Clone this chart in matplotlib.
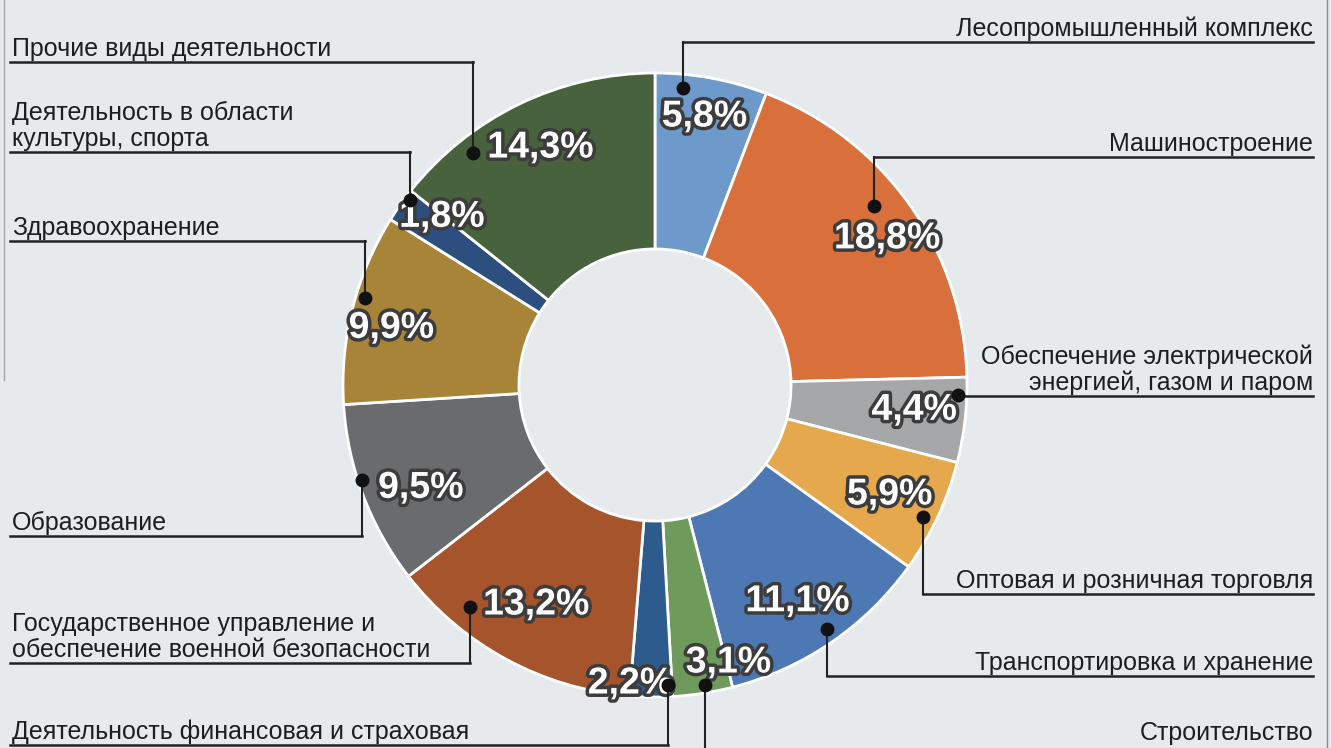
import matplotlib
matplotlib.use('Agg')
import matplotlib.pyplot as plt
import matplotlib.patheffects as pe
import numpy as np

plt.rcParams['font.family'] = ['Liberation Sans', 'DejaVu Sans']

# data, clockwise from 12 o'clock
categories = [
    'Лесопромышленный комплекс',
    'Машиностроение',
    'Обеспечение электрической\nэнергией, газом и паром',
    'Оптовая и розничная торговля',
    'Транспортировка и хранение',
    'Строительство',
    'Деятельность финансовая и страховая',
    'Государственное управление и\nобеспечение военной безопасности',
    'Образование',
    'Здравоохранение',
    'Деятельность в области\nкультуры, спорта',
    'Прочие виды деятельности',
]
shares = [5.8, 18.8, 4.4, 5.9, 11.1, 3.1, 2.2, 13.2, 9.5, 9.9, 1.8, 14.3]
colors = ['#6e9acb', '#d9703c', '#a6a7a9', '#e6a84c', '#4e78b4', '#6e9b5c',
          '#2e5b8e', '#a5542b', '#6a6b6d', '#a88438', '#2d4f7f', '#47623c']

# layout (pixels, y measured from top)
W, H = 1331, 748
CX, CY = 655, 385
R = 312
side = ['r', 'r', 'r', 'r', 'r', 'r', 'l', 'l', 'l', 'l', 'l', 'l']
line_y = [42, 157, 396, 594, 676, 752, 745, 663, 536, 241, 152, 62]
text_gap = [6, 6, 6, 6, 6, 12, 6, 6, 6, 6, 6, 6]
dot_frac = [0.26, 0.44, 0.21, 0.56, 0.48, 0.44, 0.09, 0.74, 0.58, 0.57, 0.77, 0.26]
dot_r = [0.955, 0.907, 0.971, 0.958, 0.955, 0.974, 0.962, 0.926, 0.987, 0.971, 0.985, 0.946]
pct_r = [0.875, 0.88, 0.835, 0.83, 0.83, 0.92, 0.96, 0.80, 0.82, 0.865, 0.87, 0.845]
pct_shift = [0, 3, -1, 0, 1, -6, 4, 0, -3, -2, 3, 0]


def polar(clock_deg, r):
    t = np.deg2rad(90 - clock_deg)
    return CX + r * R * np.cos(t), (H - CY) + r * R * np.sin(t)


fig = plt.figure(figsize=(W / 100, H / 100), dpi=100)
fig.patch.set_facecolor('#e6eaed')
ax = fig.add_axes([0, 0, 1, 1])
ax.set_facecolor('#e6eaed')

ax.pie(shares, colors=colors, startangle=90, counterclock=False,
       radius=R, center=(CX, H - CY),
       wedgeprops=dict(width=R * 0.564, edgecolor='white', linewidth=2))
ax.set_xlim(0, W)
ax.set_ylim(0, H)
ax.set_aspect('equal')
ax.axis('off')

total = sum(shares)
bounds = np.concatenate([[0], np.cumsum(shares)]) / total * 360

outline = [pe.withStroke(linewidth=5, foreground='#3c3c3c')]
for i, v in enumerate(shares):
    a0, a1 = bounds[i], bounds[i + 1]
    mid = (a0 + a1) / 2 + pct_shift[i]
    tx, ty = polar(mid, pct_r[i])
    ax.text(tx, ty, f'{v:.1f}%'.replace('.', ','), ha='center', va='center',
            fontsize=27, fontweight='bold', color='white', path_effects=outline,
            zorder=5)

    # leader line
    dx, dy = polar(a0 + dot_frac[i] * (a1 - a0), dot_r[i])
    ly = H - line_y[i]
    if side[i] == 'r':
        xs, xe = dx, 1313
        tx, ha = 1313, 'right'
    else:
        xs, xe = 10, dx
        tx, ha = 12, 'left'
    ax.plot([dx, dx], [dy, ly], color='#222222', lw=1.5, zorder=6)
    ax.plot([xs, xe], [ly, ly], color='#222222', lw=1.8, zorder=6)
    ax.plot(dx, dy, 'o', color='#111111', ms=9, zorder=7)
    ax.text(tx, ly + text_gap[i], categories[i], ha=ha, va='baseline', fontsize=18,
            color='#1e1e1e', linespacing=1.1, zorder=6)

# scanned page borders
ax.plot([1327, 1327], [0, H], color='#8a8e92', lw=1)
ax.plot([4, 4], [H, H - 380], color='#a0a4a8', lw=1)

fig.savefig('out.png', dpi=100, facecolor=fig.get_facecolor())
